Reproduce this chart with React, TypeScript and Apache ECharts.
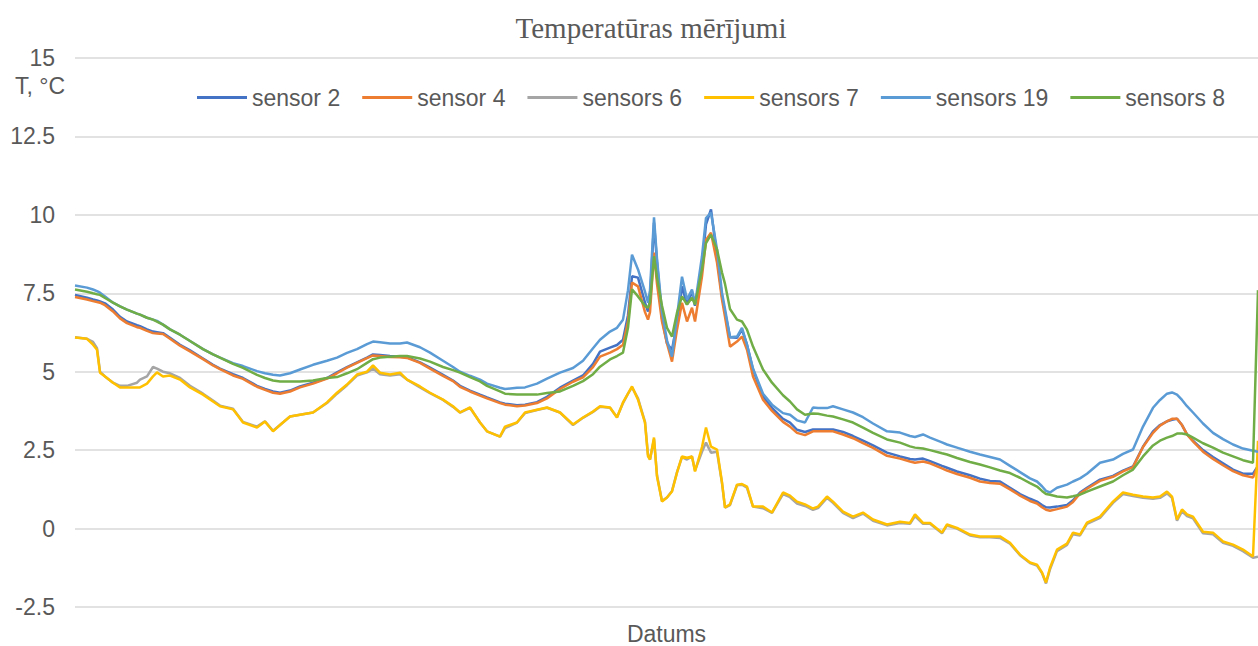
import React, { useEffect, useRef } from "react";
import * as echarts from "echarts";

// measurement index (time order along the x axis)
const timeIdx = [
  0, 12, 18, 22, 25, 30, 38, 45, 52, 62,
  65, 72, 78, 82, 88, 95, 105, 115, 128, 138,
  145, 158, 168, 182, 190, 198, 205, 215, 225, 238,
  252, 262, 272, 282, 292, 298, 305, 315, 325, 332,
  345, 355, 368, 378, 385, 395, 405, 412, 425, 430,
  442, 450, 462, 472, 485, 498, 508, 518, 525, 535,
  542, 548, 553, 557, 563, 570, 573, 575, 579, 582,
  587, 592, 597, 602, 607, 612, 617, 620, 627, 631,
  636, 642, 647, 650, 655, 662, 667, 672, 678, 688,
  697, 708, 715, 722, 730, 738, 743, 752, 758, 768,
  778, 788, 798, 812, 825, 835, 840, 848, 855, 867,
  872, 882, 895, 905, 915, 925, 935, 945, 955, 962,
  967, 971, 975, 982, 992, 998, 1005, 1012, 1025, 1038,
  1048, 1058, 1068, 1078, 1085, 1092, 1097, 1102, 1107, 1112,
  1118, 1128, 1138, 1148, 1158, 1168, 1178, 1183,
];

const sensor2 = [
  7.45, 7.36, 7.3, 7.27, 7.24, 7.18, 6.98, 6.75, 6.6, 6.48,
  6.45, 6.35, 6.28, 6.26, 6.23, 6.08, 5.86, 5.68, 5.42, 5.22,
  5.1, 4.92, 4.8, 4.55, 4.45, 4.37, 4.33, 4.4, 4.53, 4.65,
  4.8, 4.98, 5.15, 5.3, 5.45, 5.55, 5.53, 5.5, 5.48, 5.46,
  5.3, 5.13, 4.9, 4.72, 4.55, 4.4, 4.27, 4.18, 4.02, 3.98,
  3.93, 3.95, 4.03, 4.2, 4.49, 4.72, 4.88, 5.25, 5.64, 5.77,
  5.85, 6.02, 6.8, 8.04, 8.0, 7.2, 6.92, 7.3, 9.75, 8.5,
  6.7, 5.9, 5.7, 6.56, 7.72, 7.14, 7.56, 7.1, 8.36, 9.7,
  10.17, 8.68, 7.4, 6.9, 6.1, 6.08, 6.34, 5.86, 5.07, 4.21,
  3.85, 3.5, 3.38, 3.15, 3.08, 3.16, 3.16, 3.16, 3.16, 3.08,
  2.95, 2.8, 2.65, 2.42, 2.3, 2.22, 2.2, 2.23, 2.15, 2.0,
  1.94, 1.82, 1.7, 1.59, 1.52, 1.5, 1.3, 1.1, 0.95, 0.86,
  0.75, 0.68, 0.67, 0.7, 0.75, 0.9, 1.15, 1.3, 1.56, 1.68,
  1.85, 1.98, 2.61, 3.1, 3.3, 3.42, 3.47, 3.5, 3.3, 3.0,
  2.8, 2.5, 2.28, 2.08, 1.88, 1.75, 1.75, 2.0,
];

const sensor4 = [
  7.38, 7.3, 7.25, 7.22, 7.2, 7.12, 6.92, 6.7, 6.55, 6.42,
  6.4, 6.3, 6.23, 6.22, 6.2, 6.05, 5.83, 5.65, 5.4, 5.2,
  5.08, 4.88, 4.77, 4.52, 4.42, 4.33, 4.3, 4.37, 4.5, 4.62,
  4.78, 4.95, 5.13, 5.28, 5.43, 5.52, 5.5, 5.47, 5.46, 5.44,
  5.28, 5.1, 4.87, 4.7, 4.52, 4.37, 4.24, 4.15, 4.0, 3.95,
  3.9, 3.92, 4.0, 4.15, 4.45, 4.68, 4.82, 5.15, 5.48, 5.61,
  5.72, 5.86, 6.6, 7.84, 7.72, 6.9, 6.66, 6.9, 8.8, 7.8,
  6.6, 5.9, 5.32, 6.34, 7.2, 6.6, 7.04, 6.6, 8.04, 9.2,
  9.43, 8.48, 7.3, 6.75, 5.8, 5.96, 6.12, 5.7, 4.85, 4.11,
  3.75, 3.4, 3.25, 3.05, 2.98, 3.1, 3.1, 3.1, 3.1, 3.0,
  2.88, 2.72, 2.57, 2.32, 2.23, 2.14, 2.1, 2.14, 2.08, 1.92,
  1.85, 1.74, 1.62, 1.5, 1.45, 1.43, 1.25, 1.05, 0.88, 0.8,
  0.68, 0.6, 0.57, 0.62, 0.7, 0.85, 1.12, 1.27, 1.52, 1.65,
  1.82, 1.96, 2.6, 3.05, 3.28, 3.42, 3.5, 3.5, 3.3, 3.0,
  2.78, 2.45, 2.22, 2.02, 1.83, 1.7, 1.63, 2.0,
];

const sensor6 = [
  6.1, 6.05, 5.95, 5.75, 5.0, 4.85, 4.65, 4.55, 4.55, 4.65,
  4.75, 4.85, 5.15, 5.1, 5.0, 4.95, 4.8, 4.55, 4.3, 4.08,
  3.92, 3.82, 3.4, 3.25, 3.42, 3.12, 3.3, 3.57, 3.63, 3.7,
  4.0, 4.3, 4.57, 4.88, 4.98, 5.1, 4.92, 4.88, 4.92, 4.75,
  4.5, 4.32, 4.1, 3.88, 3.7, 3.85, 3.38, 3.1, 2.93, 3.2,
  3.38, 3.68, 3.78, 3.85, 3.7, 3.3, 3.53, 3.72, 3.88, 3.85,
  3.55, 4.0, 4.3, 4.5, 4.15, 3.4, 2.35, 2.2, 2.85, 1.7,
  0.88, 0.99, 1.2, 1.8, 2.28, 2.2, 2.3, 1.85, 2.45, 2.74,
  2.42, 2.45, 1.45, 0.67, 0.75, 1.38, 1.4, 1.3, 0.7, 0.65,
  0.5, 1.1, 1.0, 0.8, 0.72, 0.6, 0.65, 0.98, 0.82, 0.5,
  0.33, 0.48, 0.25, 0.1, 0.18, 0.15, 0.4, 0.15, 0.15, -0.15,
  0.1, 0.0, -0.22, -0.28, -0.28, -0.3, -0.48, -0.85, -1.1, -1.18,
  -1.42, -1.75, -1.3, -0.72, -0.52, -0.18, -0.22, 0.15, 0.34, 0.82,
  1.1, 1.04, 0.98, 0.95, 0.98, 1.12, 0.98, 0.25, 0.55, 0.4,
  0.33, -0.15, -0.18, -0.45, -0.55, -0.72, -0.93, -0.9,
];

const sensor7 = [
  6.09, 6.05, 5.86, 5.7, 4.97, 4.85, 4.65, 4.5, 4.5, 4.5,
  4.5, 4.62, 4.85, 4.98, 4.85, 4.88, 4.75, 4.5, 4.27, 4.05,
  3.9, 3.8, 3.38, 3.22, 3.41, 3.1, 3.3, 3.57, 3.63, 3.7,
  4.02, 4.33, 4.59, 4.91, 5.0, 5.2, 4.97, 4.91, 4.97, 4.75,
  4.53, 4.33, 4.11, 3.9, 3.7, 3.86, 3.38, 3.1, 2.93, 3.25,
  3.38, 3.7, 3.79, 3.86, 3.7, 3.32, 3.54, 3.73, 3.9, 3.86,
  3.54, 4.02, 4.3, 4.53, 4.11, 3.38, 2.3, 2.2, 2.9, 1.66,
  0.86, 0.99, 1.18, 1.78, 2.3, 2.26, 2.3, 1.82, 2.6, 3.22,
  2.61, 2.52, 1.47, 0.67, 0.77, 1.4, 1.42, 1.34, 0.7, 0.7,
  0.51, 1.15, 1.05, 0.86, 0.77, 0.64, 0.7, 1.02, 0.86, 0.54,
  0.38, 0.51, 0.29, 0.13, 0.22, 0.18, 0.45, 0.18, 0.18, -0.13,
  0.13, 0.02, -0.19, -0.25, -0.25, -0.25, -0.45, -0.83, -1.08, -1.15,
  -1.4, -1.72, -1.25, -0.67, -0.48, -0.13, -0.19, 0.19, 0.38, 0.86,
  1.15, 1.08, 1.02, 0.99, 1.02, 1.18, 1.02, 0.29, 0.61, 0.45,
  0.38, -0.1, -0.13, -0.41, -0.51, -0.67, -0.89, 2.8,
];

const sensor19 = [
  7.75, 7.68, 7.62, 7.57, 7.52, 7.4, 7.2, 7.08, 6.98, 6.85,
  6.82, 6.72, 6.66, 6.62, 6.5, 6.35, 6.18, 5.98, 5.72, 5.55,
  5.45, 5.27, 5.18, 5.02, 4.95, 4.9, 4.88, 4.95, 5.07, 5.22,
  5.35, 5.45, 5.6, 5.72, 5.88, 5.96, 5.94, 5.9, 5.9, 5.93,
  5.78, 5.61, 5.35, 5.15, 5.0, 4.87, 4.75, 4.62, 4.49, 4.45,
  4.49, 4.5, 4.62, 4.78, 4.97, 5.12, 5.35, 5.75, 6.02, 6.28,
  6.4, 6.66, 7.6, 8.73, 8.26, 7.55, 7.2, 7.6, 9.92, 8.6,
  6.9, 6.0, 5.48, 6.76, 8.03, 7.3, 7.62, 7.14, 8.68, 9.9,
  10.07, 8.9, 7.52, 7.0, 6.1, 6.12, 6.4, 5.86, 5.1, 4.3,
  3.95, 3.68, 3.63, 3.45, 3.38, 3.86, 3.84, 3.84, 3.9, 3.8,
  3.7, 3.55, 3.35, 3.1, 3.06, 2.95, 2.92, 3.0, 2.9, 2.75,
  2.68, 2.58, 2.45, 2.36, 2.28, 2.2, 2.0, 1.8, 1.6, 1.5,
  1.35, 1.2, 1.15, 1.3, 1.4, 1.5, 1.6, 1.75, 2.1, 2.2,
  2.38, 2.52, 3.25, 3.85, 4.1, 4.3, 4.34, 4.27, 4.1, 3.9,
  3.7, 3.35, 3.05, 2.85, 2.68, 2.55, 2.48, 2.45,
];

const sensor8 = [
  7.62, 7.55, 7.5, 7.47, 7.45, 7.35, 7.2, 7.08, 6.98, 6.85,
  6.82, 6.72, 6.66, 6.6, 6.5, 6.35, 6.18, 5.98, 5.72, 5.55,
  5.45, 5.25, 5.12, 4.9, 4.8, 4.72, 4.69, 4.69, 4.69, 4.72,
  4.8, 4.83, 4.95, 5.08, 5.28, 5.4, 5.45, 5.48, 5.5, 5.5,
  5.42, 5.32, 5.15, 5.05, 4.97, 4.83, 4.69, 4.55, 4.37, 4.3,
  4.27, 4.27, 4.27, 4.32, 4.37, 4.55, 4.7, 4.92, 5.16, 5.39,
  5.5, 5.61, 6.4, 7.63, 7.4, 7.1, 7.04, 7.2, 8.68, 8.0,
  7.1, 6.4, 6.12, 6.88, 7.4, 7.14, 7.36, 7.14, 8.26, 9.1,
  9.37, 8.9, 8.16, 7.8, 7.0, 6.66, 6.6, 6.34, 5.8, 5.07,
  4.65, 4.25, 4.05, 3.8, 3.63, 3.67, 3.66, 3.6, 3.57, 3.48,
  3.38, 3.22, 3.05, 2.84, 2.74, 2.62, 2.58, 2.55, 2.5, 2.4,
  2.36, 2.25, 2.12, 2.04, 1.95, 1.85, 1.77, 1.62, 1.45, 1.34,
  1.2, 1.1, 1.08, 1.02, 0.99, 1.03, 1.08, 1.18, 1.34, 1.5,
  1.7, 1.88, 2.3, 2.65, 2.8, 2.9, 2.95, 3.03, 3.03, 3.0,
  2.9, 2.72, 2.58, 2.42, 2.3, 2.18, 2.1, 7.6,
];

const seriesNames = ["sensor 2", "sensor 4", "sensors 6", "sensors 7", "sensors 19", "sensors 8"];
const seriesColors = ["#4472C4", "#ED7D31", "#A5A5A5", "#FFC000", "#5B9BD5", "#70AD47"];

const yMin = -2.5;
const yMax = 15;
const yStep = 2.5;

const titleText = "Temperatūras mērījumi";
const yName = "T, °C";
const xName = "Datums";

export default function App() {
  const ref = useRef<HTMLDivElement>(null);

  useEffect(() => {
    if (!ref.current) return;
    const chart = echarts.init(ref.current, null, { renderer: "svg" });
    const values = [sensor2, sensor4, sensor6, sensor7, sensor19, sensor8];
    const font = "'Liberation Sans', Arial, sans-serif";
    chart.setOption({
      animation: false,
      backgroundColor: "#ffffff",
      legend: {
        data: seriesNames.map((name) => ({ name, icon: "rect" })),
        left: 192,
        top: 81,
        itemWidth: 50,
        itemHeight: 3,
        itemGap: 22,
        textStyle: { fontFamily: font, fontSize: 23, color: "#595959" },
      },
      grid: {
        left: 75,
        right: 0,
        top: 58,
        bottom: 39,
        containLabel: false,
        outerBoundsMode: "none",
      },
      xAxis: {
        type: "value",
        min: 0,
        max: 1183,
        name: xName,
        nameLocation: "middle",
        nameGap: 15,
        nameTextStyle: { fontFamily: font, fontSize: 23, lineHeight: 23, color: "#595959" },
        axisLabel: { show: false },
        axisTick: { show: false },
        axisLine: { show: false },
        splitLine: { show: false },
      },
      yAxis: {
        type: "value",
        min: yMin,
        max: yMax,
        interval: yStep,
        axisLabel: { margin: 20, fontFamily: font, fontSize: 23, color: "#595959" },
        axisTick: { show: false },
        axisLine: { show: false },
        splitLine: { lineStyle: { color: "#D9D9D9", width: 1.5 } },
      },
      graphic: [
        {
          type: "text",
          x: 651,
          y: 28,
          style: {
            text: titleText,
            fontFamily: "'Liberation Serif', 'Times New Roman', serif",
            fontSize: 29,
            fill: "#595959",
            textAlign: "center",
            textVerticalAlign: "middle",
          },
        },
        {
          type: "text",
          x: 40,
          y: 86,
          style: {
            text: yName,
            fontFamily: font,
            fontSize: 23,
            fill: "#595959",
            textAlign: "center",
            textVerticalAlign: "middle",
          },
        },
      ],
      series: seriesNames.map((name, i) => ({
        type: "line",
        name,
        data: timeIdx.map((t, j) => [t, values[i][j]]),
        symbol: "none",
        smooth: false,
        lineStyle: { width: 2.5, color: seriesColors[i] },
        itemStyle: { color: seriesColors[i] },
      })),
    });
    return () => chart.dispose();
  }, []);

  return (
    <div
      ref={ref}
      style={{ position: "fixed", left: 0, top: 0, width: 1258, height: 646 }}
    />
  );
}
